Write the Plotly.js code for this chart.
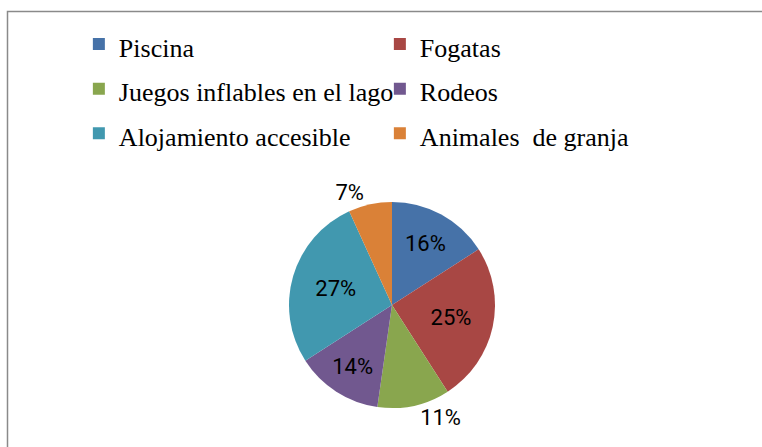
<!DOCTYPE html>
<html>
<head>
<meta charset="utf-8">
<script src="https://cdn.plot.ly/plotly-3.0.1.min.js"></script>
<style>html,body{margin:0;padding:0;background:#fff;}#chart{width:762px;height:447px;}</style>
</head>
<body>
<div id="chart"></div>
<script>
const categories = ["Piscina", "Fogatas", "Juegos inflables en el lago", "Rodeos", "Alojamiento accesible", "Animales  de granja"];
const counts = [7, 11, 5, 6, 12, 3];
const colors = ["#4672A8", "#A84744", "#89A64E", "#71588F", "#4198AF", "#DA8137"];
const textPositions = ["inside", "inside", "outside", "inside", "inside", "outside"];

const W = 762, H = 447;
const cx = 392, cy = 305, r = 103;

// legend rows are spaced by the legend font size; the visible text is drawn at 26px
const legendLabels = categories.map(c => '<span style="font-size:26px">' + c + '</span>');

const trace = {
  type: "pie",
  labels: legendLabels,
  values: counts,
  sort: false,
  direction: "clockwise",
  rotation: 0,
  marker: {colors: colors, line: {width: 0}},
  texttemplate: "%{percent:.0%}",
  textposition: textPositions,
  insidetextorientation: "horizontal",
  textfont: {family: "Roboto, sans-serif", size: 22, color: "#000"},
  outsidetextfont: {family: "Roboto, sans-serif", size: 22, color: "#000"},
  hoverinfo: "percent",
  domain: {x: [(cx - r) / W, (cx + r) / W], y: [(H - cy - r) / H, (H - cy + r) / H]}
};

const layout = {
  width: W, height: H,
  margin: {l: 0, r: 0, t: 0, b: 0},
  paper_bgcolor: "#fff",
  showlegend: true,
  legend: {
    orientation: "h",
    x: 0.1035, xanchor: "left",
    y: 0.9625, yanchor: "top",
    entrywidth: 256, entrywidthmode: "pixels",
    font: {family: "Liberation Serif, serif", size: 32, color: "#000"},
    traceorder: "normal",
    tracegroupgap: 0,
    itemclick: false
  },
  shapes: [{
    type: "rect", xref: "paper", yref: "paper",
    x0: 7.5 / W, x1: 1.02, y0: -0.02, y1: 1 - 11.5 / H,
    line: {color: "#8a8a8a", width: 1.5}, fillcolor: "rgba(0,0,0,0)"
  }]
};

Plotly.newPlot("chart", [trace], layout, {displayModeBar: false, staticPlot: true});
</script>
</body>
</html>
